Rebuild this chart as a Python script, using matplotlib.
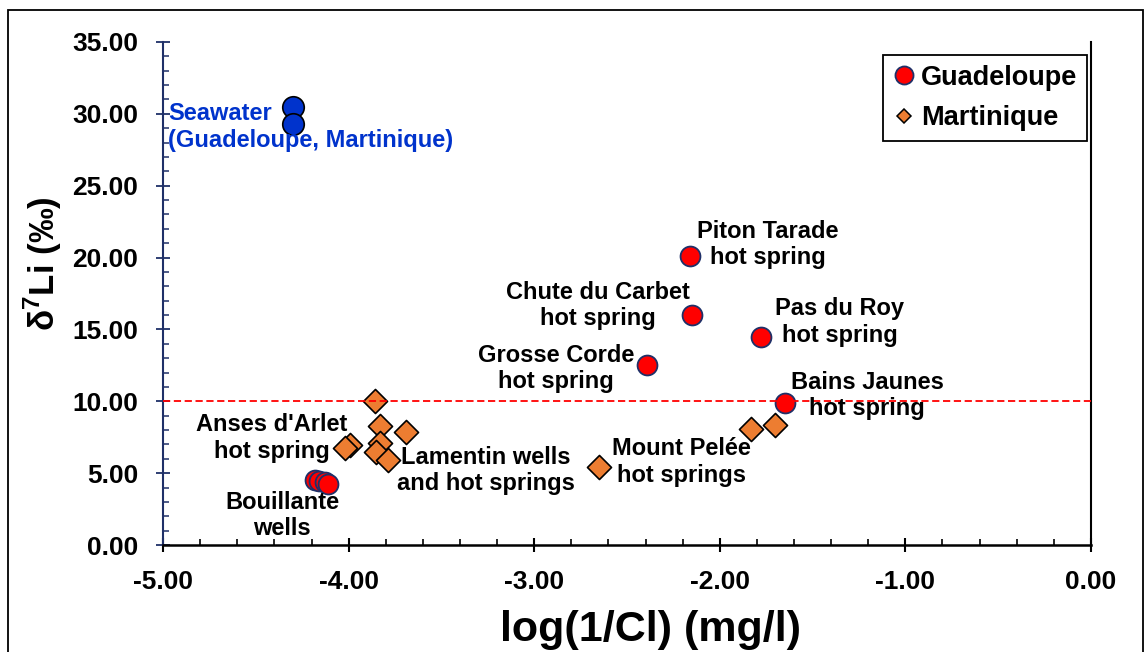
import matplotlib
matplotlib.use("Agg")
import matplotlib.pyplot as plt
from matplotlib.lines import Line2D
from matplotlib.patches import Rectangle
from matplotlib.ticker import MultipleLocator, FormatStrFormatter

plt.rcParams['font.family'] = ['Liberation Sans', 'DejaVu Sans']
plt.rcParams['font.weight'] = 'bold'
plt.rcParams['mathtext.fontset'] = 'custom'
plt.rcParams['mathtext.bf'] = 'Liberation Sans:bold'
plt.rcParams['mathtext.rm'] = 'Liberation Sans:bold'

# log(1/Cl) and d7Li values
gua_x = [-4.18, -4.16, -4.13, -4.11, -2.39, -2.15, -2.16, -1.78, -1.65]
gua_y = [4.55, 4.45, 4.35, 4.25, 12.5, 16.0, 20.1, 14.5, 9.9]

mar_x = [-3.86, -3.83, -3.69, -3.99, -4.02, -3.83, -3.85, -3.79, -2.65, -1.83, -1.70]
mar_y = [10.0, 8.28, 7.85, 6.96, 6.75, 7.1, 6.47, 5.91, 5.4, 8.07, 8.35]

sea_x = [-4.30, -4.30]
sea_y = [30.5, 29.3]

threshold = 10.0

NAVY = '#1f3068'
ORANGE = '#ED7D31'
SEABLUE = '#0033CC'

fig = plt.figure(figsize=(11.45, 6.52), dpi=100)
ax = fig.add_axes([0.1424, 0.1641, 0.8104, 0.7715])

ax.axhline(threshold, color='red', ls=(0, (4, 2)), lw=1.3, zorder=4)

ax.scatter(mar_x, mar_y, marker='D', s=150, c=ORANGE, edgecolors='black',
           linewidths=1.2, zorder=3)
ax.scatter(gua_x, gua_y, marker='o', s=205, c='red', edgecolors=NAVY,
           linewidths=1.3, zorder=3)
ax.scatter(sea_x, sea_y, marker='o', s=240, c=SEABLUE, edgecolors='black',
           linewidths=1.2, zorder=3)

# site labels
lab = dict(fontsize=17, fontweight='bold', ha='center', va='center', zorder=5)
ax.text(-4.973, 29.09, "Seawater\n(Guadeloupe, Martinique)", color=SEABLUE,
        **{**lab, 'ha': 'left'})
ax.text(-1.743, 20.91, "Piton Tarade\nhot spring", **lab)
ax.text(-2.659, 16.67, "Chute du Carbet\nhot spring", **lab)
ax.text(-2.883, 12.28, "Grosse Corde\nhot spring", **lab)
ax.text(-1.355, 15.52, "Pas du Roy\nhot spring", **lab)
ax.text(-1.207, 10.40, "Bains Jaunes\nhot spring", **lab)
ax.text(-4.413, 7.45, "Anses d'Arlet\nhot spring", **lab)
ax.text(-3.26, 5.18, "Lamentin wells\nand hot springs", **lab)
ax.text(-4.359, 2.05, "Bouillante\nwells", **lab)
ax.text(-2.204, 5.78, "Mount Pelée\nhot springs", **lab)

ax.set_xlim(-5, 0)
ax.set_ylim(0, 35)
ax.xaxis.set_major_locator(MultipleLocator(1))
ax.xaxis.set_minor_locator(MultipleLocator(0.2))
ax.yaxis.set_major_locator(MultipleLocator(5))
ax.yaxis.set_minor_locator(MultipleLocator(1))
ax.xaxis.set_major_formatter(FormatStrFormatter('%.2f'))
ax.yaxis.set_major_formatter(FormatStrFormatter('%.2f'))

ax.spines['top'].set_visible(False)
ax.spines['left'].set_color(NAVY)
ax.spines['left'].set_linewidth(1.5)
ax.spines['bottom'].set_linewidth(1.8)
ax.spines['right'].set_linewidth(1.5)

ax.tick_params(axis='x', which='major', direction='inout', length=10, width=1.5,
               pad=13, labelsize=19)
ax.tick_params(axis='x', which='minor', direction='in', length=4, width=1.2)
ax.tick_params(axis='y', which='major', direction='inout', length=10, width=1.3,
               color=NAVY, pad=13, labelsize=19, right=False)
ax.tick_params(axis='y', which='minor', direction='in', length=4, width=1.1,
               color=NAVY, right=False)
for t in ax.get_xticklabels() + ax.get_yticklabels():
    t.set_fontweight('bold')

ax.set_xlabel("log(1/Cl) (mg/l)", fontsize=31, fontweight='bold')
ax.xaxis.set_label_coords(0.525, -0.13)
ax.set_ylabel(r"δ$^{\mathbf{7}}$Li (‰)", fontsize=25, fontweight='bold')
ax.yaxis.set_label_coords(-0.107, 0.559)

handles = [
    Line2D([], [], ls='none', marker='o', markersize=13, markerfacecolor='red',
           markeredgecolor=NAVY, markeredgewidth=1.3, label='Guadeloupe'),
    Line2D([], [], ls='none', marker='D', markersize=7.5, markerfacecolor=ORANGE,
           markeredgecolor='black', markeredgewidth=1.1, label='Martinique'),
]
leg = ax.legend(handles=handles, loc='upper right', bbox_to_anchor=(0.9957, 0.974),
                prop={'size': 19.5, 'weight': 'bold'}, frameon=True, fancybox=False,
                edgecolor='black', framealpha=1, handlelength=0.8,
                handletextpad=0.25, labelspacing=0.55, borderpad=0.35,
                borderaxespad=0)
leg.get_frame().set_linewidth(1.3)

# outer chart border
fig.patches.append(Rectangle((0.0072, -0.1), 0.9910, 1.0847, transform=fig.transFigure,
                             fill=False, edgecolor='black', lw=1.3, clip_on=False))

fig.savefig("out.png", dpi=100)
